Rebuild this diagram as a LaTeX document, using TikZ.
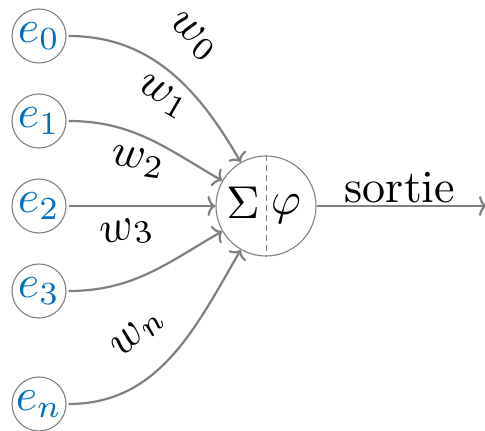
\documentclass[tikz,border=0pt]{standalone}
\usetikzlibrary{arrows.meta}
\definecolor{inblue}{RGB}{0,112,190}
\definecolor{lgray}{RGB}{128,128,128}
\tikzset{
  big/.style={font=\normalsize, scale=4.6},
  inp/.style={circle, draw=lgray, line width=1.1pt, minimum size=11.74pt, inner sep=0pt, text=inblue, big},
  neuron/.style={circle, draw=lgray, line width=1.1pt, minimum size=100pt, inner sep=0pt},
  edge/.style={draw=lgray, line width=2.2pt, -{To[length=8pt,width=20pt]}},
  wlab/.style={big, inner sep=0pt},
}
\begin{document}
\begin{tikzpicture}[x=1pt,y=1pt]
\useasboundingbox (0,0) rectangle (485,431);
\node[inp] (e0) at (39,395) {$e_0$};
\node[inp] (e1) at (39,310) {$e_1$};
\node[inp] (e2) at (39,225) {$e_2$};
\node[inp] (e3) at (39,140) {$e_3$};
\node[inp] (en) at (39,27) {$e_n$};
\node[neuron] (s) at (266,225) {};
\draw[lgray, line width=0.8pt, dash pattern=on 6pt off 4pt] (s.north) -- (s.south);
\node[big, inner sep=0pt] (sig) at (243,228) {$\Sigma$};
\node[big, inner sep=0pt] (phi) at (286,222) {$\varphi$};
\coordinate (out) at (487,225);
\draw[edge] (s) -- (out);
\node[big, inner sep=0pt] (sortie) at (400,243) {sortie};
\draw[edge] (e0) to[out=0,in=120] (s);
\draw[edge] (e1) to[out=0,in=150] (s);
\draw[edge] (e2) -- (s);
\draw[edge] (e3) to[out=0,in=210] (s);
\draw[edge] (en) to[out=0,in=240] (s);
\node[wlab, rotate=-40] (w0) at (193,394) {$w_0$};
\node[wlab, rotate=-30] (w1) at (163,334) {$w_1$};
\node[wlab, rotate=-8] (w2) at (138,269) {$w_2$};
\node[wlab, rotate=12] (w3) at (127,198) {$w_3$};
\node[wlab, rotate=45] (wn) at (138,98) {$w_n$};
\end{tikzpicture}
\end{document}
